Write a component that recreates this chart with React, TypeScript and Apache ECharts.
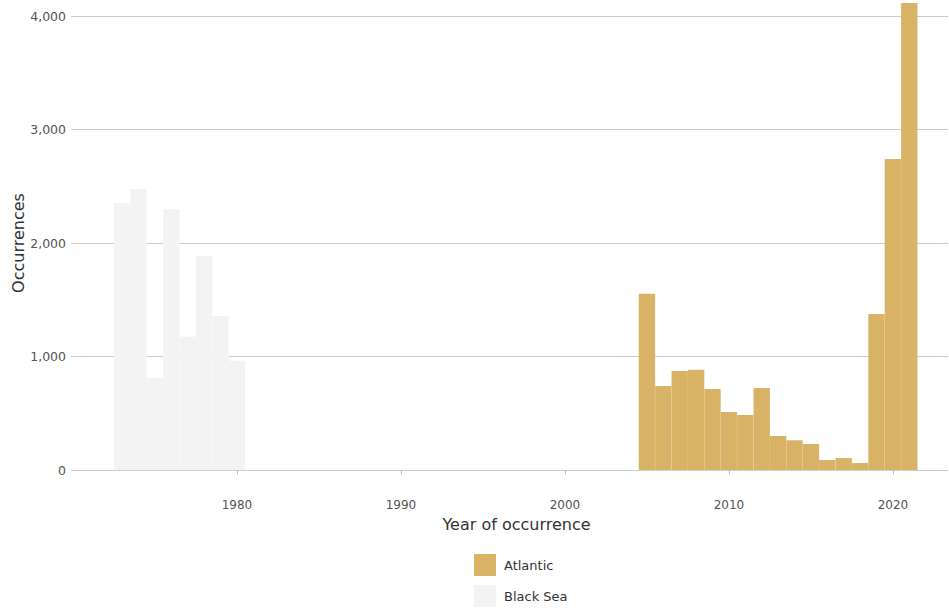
import React, { useEffect, useRef } from "react";
import * as echarts from "echarts";

const blackSeaYears = [1973, 1974, 1975, 1976, 1977, 1978, 1979, 1980];
const blackSeaValues = [2352, 2475, 812, 2300, 1175, 1885, 1357, 962];

const atlanticYears = [2005, 2006, 2007, 2008, 2009, 2010, 2011, 2012, 2013, 2014, 2015, 2016, 2017, 2018, 2019, 2020, 2021];
const atlanticValues = [1553, 740, 872, 883, 714, 511, 485, 722, 300, 262, 229, 88, 106, 62, 1374, 2740, 4114];

const xTicks = [1980, 1990, 2000, 2010, 2020];

const toPairs = (xs: number[], ys: number[]) => xs.map((x, i) => [x, ys[i]]);

function renderBar(color: string) {
  return (params: any, api: any) => {
    const x = api.value(0);
    const y = api.value(1);
    const p0 = api.coord([x - 0.5, y]);
    const p1 = api.coord([x + 0.5, 0]);
    return {
      type: "rect",
      shape: { x: p0[0], y: p0[1], width: p1[0] - p0[0], height: p1[1] - p0[1] },
      style: { fill: color, stroke: "rgba(255,255,255,0.12)", lineWidth: 0.6 },
    };
  };
}

export default function App() {
  const ref = useRef<HTMLDivElement>(null);
  useEffect(() => {
    if (!ref.current) return;
    const chart = echarts.init(ref.current, undefined, { renderer: "svg" });
    const font = "DejaVu Sans";
    chart.setOption({
      animation: false,
      backgroundColor: "#ffffff",
      textStyle: { fontFamily: font },
      grid: { left: 71, right: 1, top: 16, bottom: 140, containLabel: false, outerBoundsMode: "none" },
      legend: {
        orient: "vertical",
        left: 474,
        top: 554,
        padding: 0,
        itemWidth: 22,
        itemHeight: 22,
        itemGap: 9,
        icon: "rect",
        textStyle: { fontFamily: font, fontSize: 13, color: "#333", padding: [0, 0, 0, 3] },
        data: ["Atlantic", "Black Sea"],
      },
      xAxis: {
        type: "value",
        min: 1969.88,
        max: 2023.36,
        offset: 24,
        name: "Year of occurrence",
        nameLocation: "middle",
        nameGap: 22,
        nameMoveOverlap: false,
        nameTextStyle: { fontFamily: font, fontSize: 16, color: "#333", padding: [0, 0, 0, 14] },
        axisLine: { show: false },
        axisTick: { show: true, length: 4, lineStyle: { color: "#bbb" }, customValues: xTicks },
        axisLabel: { color: "#555", fontSize: 12, margin: 5, fontFamily: font, customValues: xTicks, formatter: (v: number) => String(v) },
        splitLine: { show: false },
      },
      yAxis: {
        type: "value",
        min: 0,
        max: 4000,
        interval: 1000,
        name: "Occurrences",
        nameLocation: "middle",
        nameGap: 45,
        nameMoveOverlap: false,
        nameTextStyle: { fontFamily: font, fontSize: 16, color: "#333" },
        axisLine: { show: false },
        axisTick: { show: false },
        axisLabel: {
          color: "#555",
          fontSize: 12.5,
          margin: 5,
          fontFamily: font,
          formatter: (v: number) => v.toLocaleString("en-US"),
        },
        splitLine: { show: true, lineStyle: { color: "#ccc", width: 1 } },
      },
      series: [
        {
          name: "Atlantic",
          type: "custom",
          clip: false,
          itemStyle: { color: "#d8b365" },
          renderItem: renderBar("#d8b365"),
          encode: { x: 0, y: 1 },
          data: toPairs(atlanticYears, atlanticValues),
        },
        {
          name: "Black Sea",
          type: "custom",
          clip: false,
          itemStyle: { color: "#f3f3f3" },
          renderItem: renderBar("#f3f3f3"),
          encode: { x: 0, y: 1 },
          data: toPairs(blackSeaYears, blackSeaValues),
        },
      ],
    });
    return () => chart.dispose();
  }, []);
  return <div ref={ref} style={{ width: 949, height: 610, position: "absolute", left: 0, top: 0 }} />;
}
